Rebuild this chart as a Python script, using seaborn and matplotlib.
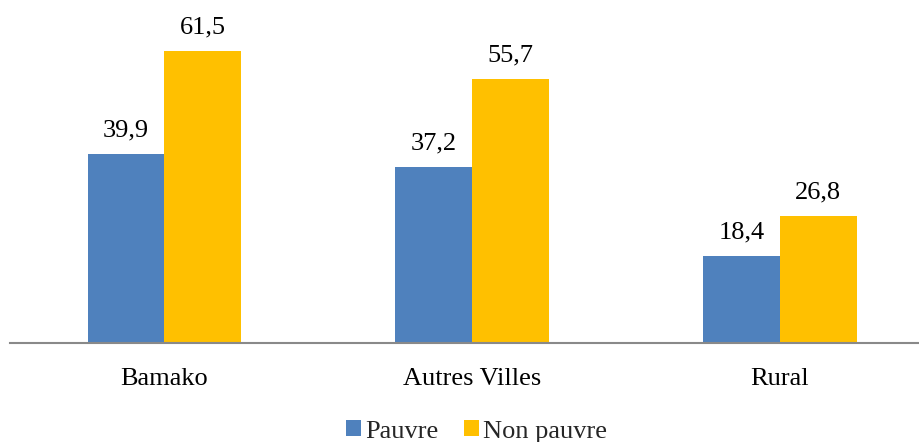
import pandas as pd
import matplotlib
matplotlib.use("Agg")
import matplotlib.pyplot as plt
from matplotlib.patches import Patch
import seaborn as sns

# data
zones = ["Bamako", "Autres Villes", "Rural"]
pauvre = [39.9, 37.2, 18.4]
non_pauvre = [61.5, 55.7, 26.8]
groupes = ["Pauvre", "Non pauvre"]
couleurs = ["#4F81BD", "#FFC000"]

df = pd.DataFrame({
    "Zone": zones * 2,
    "Groupe": [groupes[0]] * len(zones) + [groupes[1]] * len(zones),
    "Valeur": pauvre + non_pauvre,
})

sns.set_style("white")
plt.rcParams["font.family"] = ["Liberation Serif", "DejaVu Serif"]

fig = plt.figure(figsize=(9.2, 4.42), dpi=100)
ax = fig.add_axes([0.0109, 0.2229, 0.9891, 0.7771])

sns.barplot(data=df, x="Zone", y="Valeur", hue="Groupe", order=zones,
            hue_order=groupes, palette=couleurs, width=0.5, gap=0,
            saturation=1, edgecolor="none", legend=False, ax=ax)

# value labels with a French decimal comma
for cont in ax.containers:
    ax.bar_label(cont, labels=[f"{v:.1f}".replace(".", ",") for v in cont.datavalues],
                 padding=9, fontsize=19, color="#000000")

ax.set_xlim(-0.502, 2.456)
ax.set_ylim(0, 72.3)
ax.set_xlabel("")
ax.set_ylabel("")
ax.set_yticks([])
ax.tick_params(axis="x", length=0, pad=18, labelsize=19, colors="#000000")
for s in ["top", "right", "left"]:
    ax.spines[s].set_visible(False)
ax.spines["bottom"].set_color("#898989")
ax.spines["bottom"].set_linewidth(1.5)

handles = [Patch(facecolor=c, edgecolor="none", label=g) for g, c in zip(groupes, couleurs)]
fig.legend(handles=handles, loc="center", bbox_to_anchor=(0.518, 0.024), ncol=2,
           frameon=False, fontsize=19, handlelength=0.55, handleheight=0.55,
           handletextpad=0.15, columnspacing=1.0, borderaxespad=0, borderpad=0)

fig.savefig("out.png", dpi=100)
